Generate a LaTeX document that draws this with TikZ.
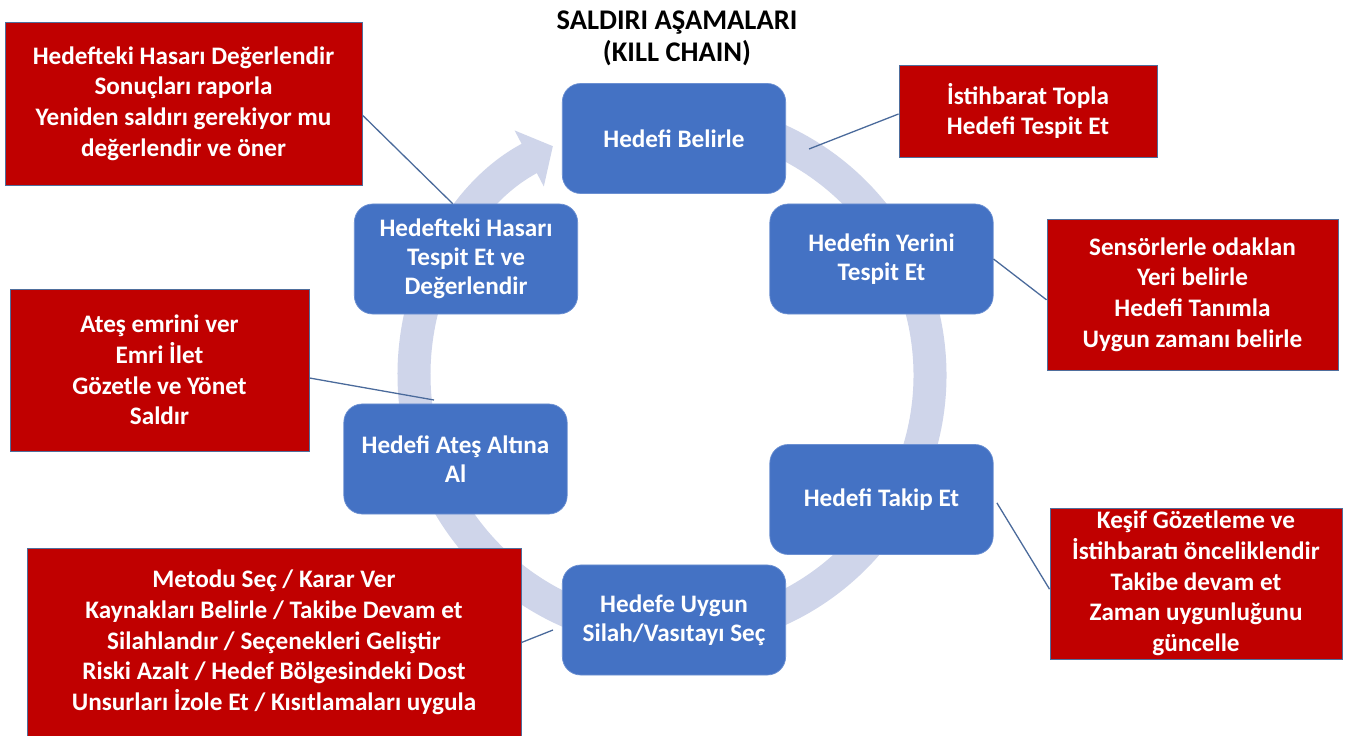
\documentclass[tikz,border=0pt]{standalone}
\usepackage{fontspec}
\setmainfont{Carlito}
\usetikzlibrary{arrows.meta,calc}
\definecolor{stagefill}{HTML}{4472C4}
\definecolor{stageedge}{HTML}{6C90D2}
\definecolor{notefill}{HTML}{C00000}
\definecolor{noteedge}{HTML}{4F6E9C}
\definecolor{linkcol}{HTML}{4A6A9B}
\definecolor{ringcol}{HTML}{CFD5EA}

\begin{document}
\begin{tikzpicture}[x=0.03cm,y=-0.03cm,
  stage/.style={draw=stageedge, fill=stagefill, line width=0.6pt, rounded corners=0.55cm,
    minimum width=6.7cm, minimum height=3.3cm, inner sep=0pt, text=white, align=center,
    font=\fontsize{21.5}{24.7}\selectfont\bfseries},
  note/.style={draw=noteedge, fill=notefill, line width=0.8pt, inner sep=0pt, text=white,
    align=center, font=\fontsize{21.5}{26.2}\selectfont\bfseries},
  link/.style={draw=linkcol, line width=1.1pt}]
		\useasboundingbox[fill=white] (0,0) rectangle (1359,736);
		\coordinate (RingCenter) at (672,375);% centre of the cycle arrow
		\coordinate (p1) at (809,149);% free ends of the callout lines
		\coordinate (p2) at (434,400);
		\coordinate (p3) at (553,630);

		% the cycle arrow, drawn under the stages
		\draw[ringcol, line width=0.99cm, -{Triangle[width=1.85cm,length=0.8cm]}]
		  (RingCenter) ++(-95:258) arc[start angle=-95, end angle=242.5, radius=258];

		\node[align=center, font=\fontsize{24.3}{27.2}\selectfont\bfseries] (title) at (677,38)
		  {SALDIRI AŞAMALARI\\(KILL CHAIN)};

		% stages of the chain
		\node[stage] (b1) at (674,138.5) {Hedefi Belirle};
		\node[stage] (b2) at (881.5,259) {Hedefin Yerini\\Tespit Et};
		\node[stage] (b3) at (881.5,499.5) {Hedefi Takip Et};
		\node[stage] (b4) at (674,620) {Hedefe Uygun\\Silah/Vasıtayı Seç};
		\node[stage] (b5) at (455.5,459) {Hedefi Ateş Altına\\Al};
		\node[stage] (b6) at (466,259) {Hedefteki Hasarı\\Tespit Et ve\\Değerlendir};

		% tasks of each stage
		\node[note, minimum width=10.71cm, minimum height=4.89cm] (r1) at (183.5,103.5)
		  {Hedefteki Hasarı Değerlendir\\Sonuçları raporla\\Yeniden saldırı gerekiyor mu\\değerlendir ve öner};
		\node[note, minimum width=7.74cm, minimum height=2.76cm] (r2) at (1028,111)
		  {İstihbarat Topla\\Hedefi Tespit Et};
		\node[note, minimum width=8.73cm, minimum height=4.53cm] (r3) at (1192.5,294.5)
		  {Sensörlerle odaklan\\Yeri belirle\\Hedefi Tanımla\\Uygun zamanı belirle};
		\node[note, minimum width=8.97cm, minimum height=4.86cm] (r4) at (159.5,370)
		  {Ateş emrini ver\\Emri İlet\\Gözetle ve Yönet\\Saldır};
		\node[note, minimum width=8.76cm, minimum height=4.53cm] (r5) at (1196,583.5)
		  {Keşif Gözetleme ve\\İstihbaratı önceliklendir\\Takibe devam et\\Zaman uygunluğunu\\güncelle};
		\node[note, minimum width=14.82cm, minimum height=5.67cm] (r6) at (274,642.5)
		  {Metodu Seç / Karar Ver\\Kaynakları Belirle / Takibe Devam et\\Silahlandır / Seçenekleri Geliştir\\Riski Azalt / Hedef Bölgesindeki Dost\\Unsurları İzole Et / Kısıtlamaları uygula};

		% callout lines
		\draw[link] ([yshift=-0.35cm]r1.east) -- ([xshift=-0.4cm]b6.north);
		\draw[link] ([yshift=-0.09cm]r2.west) -- (p1);
		\draw[link] (b2.east) -- ([yshift=-0.16cm]r3.west);
		\draw[link] ([xshift=0.1cm,yshift=-0.1cm]b3.east) -- ([yshift=-0.17cm]r5.west);
		\draw[link] ([yshift=-0.24cm]r4.east) -- (p2);
		\draw[link] (r6.east) -- (p3);
	  \end{tikzpicture}
\end{document}
